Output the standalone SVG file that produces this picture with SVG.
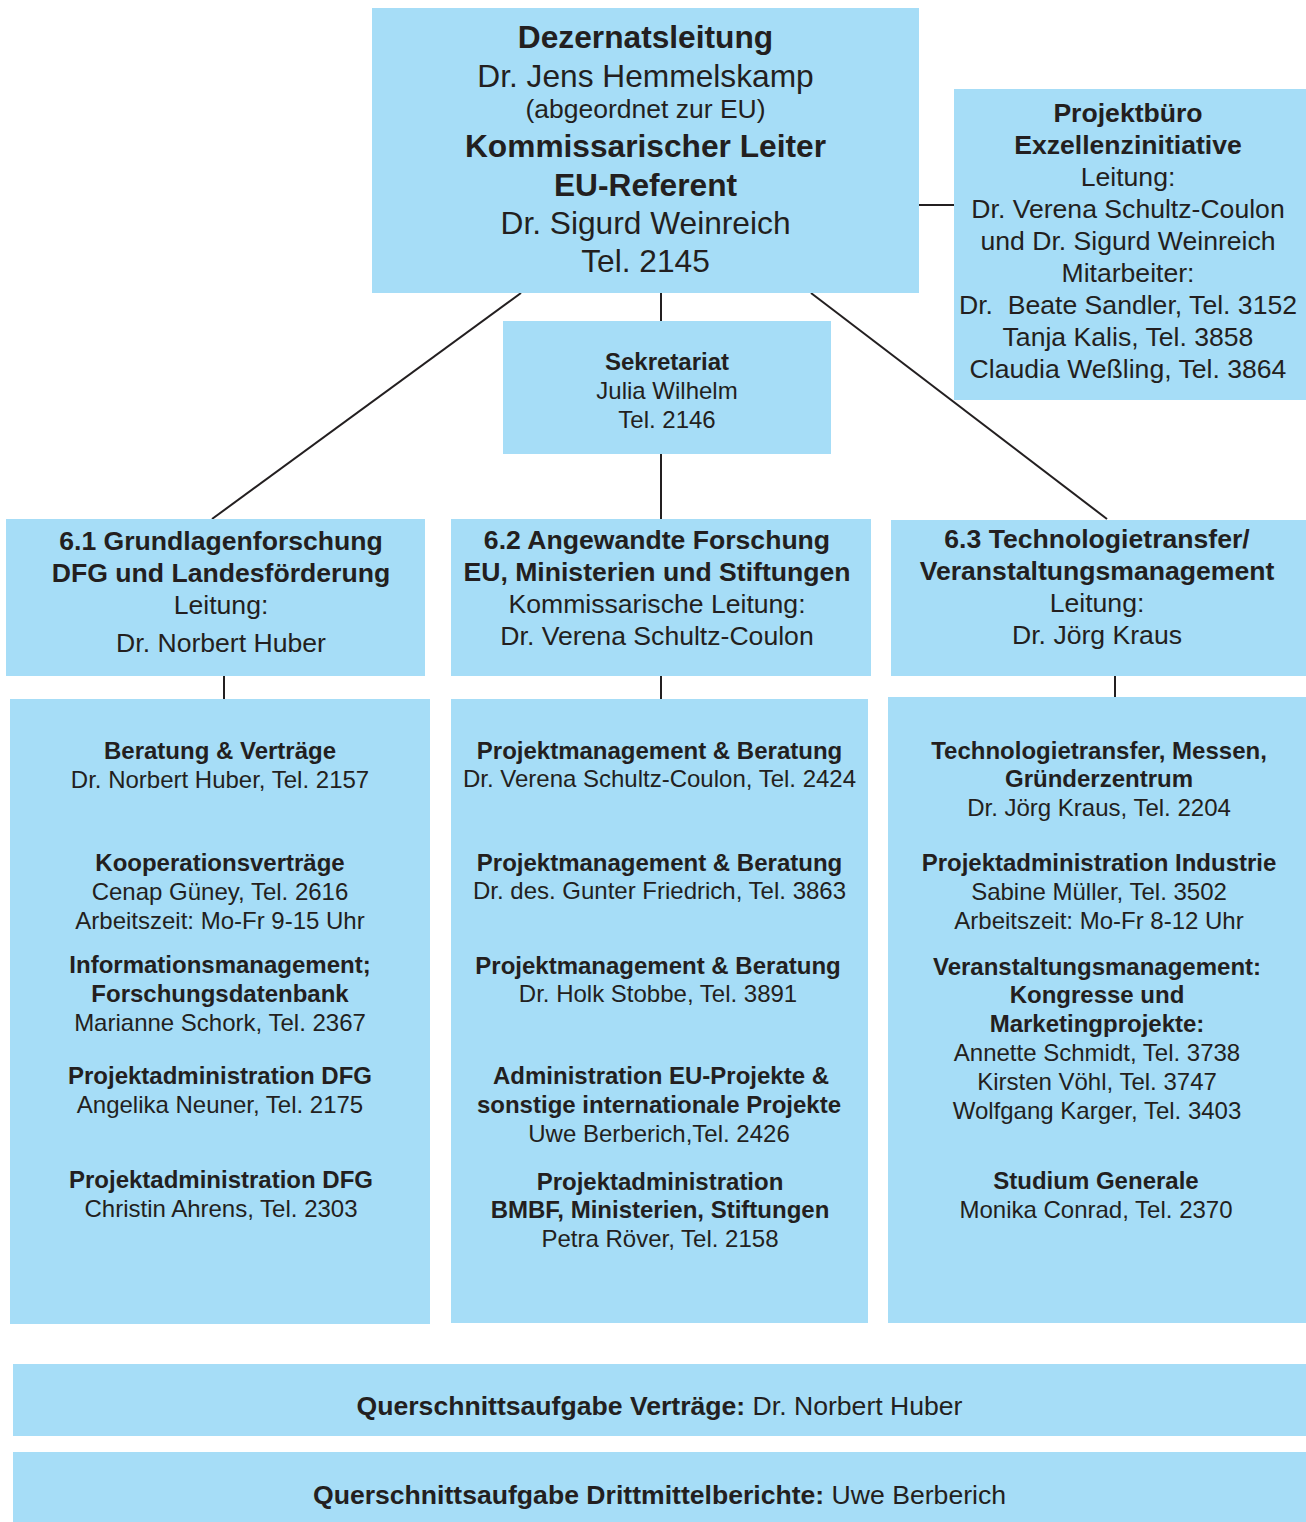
<svg xmlns="http://www.w3.org/2000/svg" width="1306" height="1522" viewBox="0 0 1306 1522">
<style>
.box{fill:#a6ddf7}
text{font-family:"Liberation Sans",Arial,sans-serif;fill:#231f20;text-anchor:middle}
.b{font-weight:bold}
.top{font-size:31.7px}
.sub{font-size:26.5px}
.mid{font-size:26.6px}
.low{font-size:24px}
.bar{font-size:26.6px}
.con{stroke:#231f20;stroke-width:2;fill:none}
</style>
<rect width="1306" height="1522" fill="#ffffff"/>
<g id="connectors">
<line class="con" x1="919" y1="205" x2="954" y2="205"/>
<line class="con" x1="521" y1="293" x2="212" y2="519"/>
<line class="con" x1="811" y1="293" x2="1107" y2="519"/>
<line class="con" x1="661" y1="293" x2="661" y2="321"/>
<line class="con" x1="661" y1="454" x2="661" y2="519"/>
<line class="con" x1="224" y1="676" x2="224" y2="699"/>
<line class="con" x1="661" y1="676" x2="661" y2="699"/>
<line class="con" x1="1115" y1="676" x2="1115" y2="697"/>
</g>
<g id="dezernatsleitung">
<rect class="box" x="372" y="8" width="547" height="285"/>
<text class="top"><tspan class="b" x="645.5" y="48">Dezernatsleitung</tspan><tspan x="645.5" y="87">Dr. Jens Hemmelskamp</tspan><tspan class="sub" x="645.5" y="118">(abgeordnet zur EU)</tspan><tspan class="b" x="645.5" y="157">Kommissarischer Leiter</tspan><tspan class="b" x="645.5" y="196">EU-Referent</tspan><tspan x="645.5" y="234">Dr. Sigurd Weinreich</tspan><tspan x="645.5" y="272">Tel. 2145</tspan></text>
</g>
<g id="projektbuero">
<rect class="box" x="954" y="89" width="352" height="311"/>
<text class="mid"><tspan class="b" x="1128" y="122">Projektbüro</tspan><tspan class="b" x="1128" y="154">Exzellenzinitiative</tspan><tspan x="1128" y="186">Leitung:</tspan><tspan x="1128" y="218">Dr. Verena Schultz-Coulon</tspan><tspan x="1128" y="250">und Dr. Sigurd Weinreich</tspan><tspan x="1128" y="282">Mitarbeiter:</tspan><tspan x="1128" y="314">Dr.&#160; Beate Sandler, Tel. 3152</tspan><tspan x="1128" y="346">Tanja Kalis, Tel. 3858</tspan><tspan x="1128" y="378">Claudia Weßling, Tel. 3864</tspan></text>
</g>
<g id="sekretariat">
<rect class="box" x="503" y="321" width="328" height="133"/>
<text class="low"><tspan class="b" x="667" y="370">Sekretariat</tspan><tspan x="667" y="399">Julia Wilhelm</tspan><tspan x="667" y="428">Tel. 2146</tspan></text>
</g>
<g id="abt61">
<rect class="box" x="6" y="519" width="419" height="157"/>
<text class="mid"><tspan class="b" x="221" y="550">6.1 Grundlagenforschung</tspan><tspan class="b" x="221" y="582">DFG und Landesförderung</tspan><tspan x="221" y="614">Leitung:</tspan><tspan x="221" y="652">Dr. Norbert Huber</tspan></text>
</g>
<g id="abt62">
<rect class="box" x="451" y="519" width="420" height="157"/>
<text class="mid"><tspan class="b" x="657" y="549">6.2 Angewandte Forschung</tspan><tspan class="b" x="657" y="581">EU, Ministerien und Stiftungen</tspan><tspan x="657" y="613">Kommissarische Leitung:</tspan><tspan x="657" y="645">Dr. Verena Schultz-Coulon</tspan></text>
</g>
<g id="abt63">
<rect class="box" x="891" y="520" width="415" height="156"/>
<text class="mid"><tspan class="b" x="1097" y="548">6.3 Technologietransfer/</tspan><tspan class="b" x="1097" y="580">Veranstaltungsmanagement</tspan><tspan x="1097" y="612">Leitung:</tspan><tspan x="1097" y="644">Dr. Jörg Kraus</tspan></text>
</g>
<g id="team61">
<rect class="box" x="10" y="699" width="420" height="625"/>
<text class="low"><tspan class="b" x="220" y="759">Beratung &amp; Verträge</tspan><tspan x="220" y="788">Dr. Norbert Huber, Tel. 2157</tspan><tspan class="b" x="220" y="871">Kooperationsverträge</tspan><tspan x="220" y="900">Cenap Güney, Tel. 2616</tspan><tspan x="220" y="929">Arbeitszeit: Mo-Fr 9-15 Uhr</tspan><tspan class="b" x="220" y="973">Informationsmanagement;</tspan><tspan class="b" x="220" y="1002">Forschungsdatenbank</tspan><tspan x="220" y="1031">Marianne Schork, Tel. 2367</tspan><tspan class="b" x="220" y="1084">Projektadministration DFG</tspan><tspan x="220" y="1113">Angelika Neuner, Tel. 2175</tspan><tspan class="b" x="221" y="1188">Projektadministration DFG</tspan><tspan x="221" y="1217">Christin Ahrens, Tel. 2303</tspan></text>
</g>
<g id="team62">
<rect class="box" x="451" y="699" width="417" height="624"/>
<text class="low"><tspan class="b" x="659.5" y="759">Projektmanagement &amp; Beratung</tspan><tspan x="659.5" y="787">Dr. Verena Schultz-Coulon, Tel. 2424</tspan><tspan class="b" x="659.5" y="871">Projektmanagement &amp; Beratung</tspan><tspan x="659.5" y="899">Dr. des. Gunter Friedrich, Tel. 3863</tspan><tspan class="b" x="658" y="974">Projektmanagement &amp; Beratung</tspan><tspan x="658" y="1002">Dr. Holk Stobbe, Tel. 3891</tspan><tspan class="b" x="661" y="1084">Administration EU-Projekte &amp;</tspan><tspan class="b" x="659" y="1113">sonstige internationale Projekte</tspan><tspan x="659" y="1142">Uwe Berberich,Tel. 2426</tspan><tspan class="b" x="660" y="1190">Projektadministration</tspan><tspan class="b" x="660" y="1218">BMBF, Ministerien, Stiftungen</tspan><tspan x="660" y="1247">Petra Röver, Tel. 2158</tspan></text>
</g>
<g id="team63">
<rect class="box" x="888" y="697" width="418" height="626"/>
<text class="low"><tspan class="b" x="1099" y="759">Technologietransfer, Messen,</tspan><tspan class="b" x="1099" y="787">Gründerzentrum</tspan><tspan x="1099" y="816">Dr. Jörg Kraus, Tel. 2204</tspan><tspan class="b" x="1099" y="871">Projektadministration Industrie</tspan><tspan x="1099" y="900">Sabine Müller, Tel. 3502</tspan><tspan x="1099" y="929">Arbeitszeit: Mo-Fr 8-12 Uhr</tspan><tspan class="b" x="1097" y="975">Veranstaltungsmanagement:</tspan><tspan class="b" x="1097" y="1003">Kongresse und</tspan><tspan class="b" x="1097" y="1032">Marketingprojekte:</tspan><tspan x="1097" y="1061">Annette Schmidt, Tel. 3738</tspan><tspan x="1097" y="1090">Kirsten Vöhl, Tel. 3747</tspan><tspan x="1097" y="1119">Wolfgang Karger, Tel. 3403</tspan><tspan class="b" x="1096" y="1189">Studium Generale</tspan><tspan x="1096" y="1218">Monika Conrad, Tel. 2370</tspan></text>
</g>
<g id="querschnitt-vertraege">
<rect class="box" x="13" y="1364" width="1293" height="72"/>
<text class="bar" x="659.5" y="1415"><tspan class="b">Querschnittsaufgabe Verträge:</tspan> Dr. Norbert Huber</text>
</g>
<g id="querschnitt-drittmittel">
<rect class="box" x="13" y="1452" width="1293" height="70"/>
<text class="bar" x="659.5" y="1504"><tspan class="b">Querschnittsaufgabe Drittmittelberichte:</tspan> Uwe Berberich</text>
</g>
</svg>
